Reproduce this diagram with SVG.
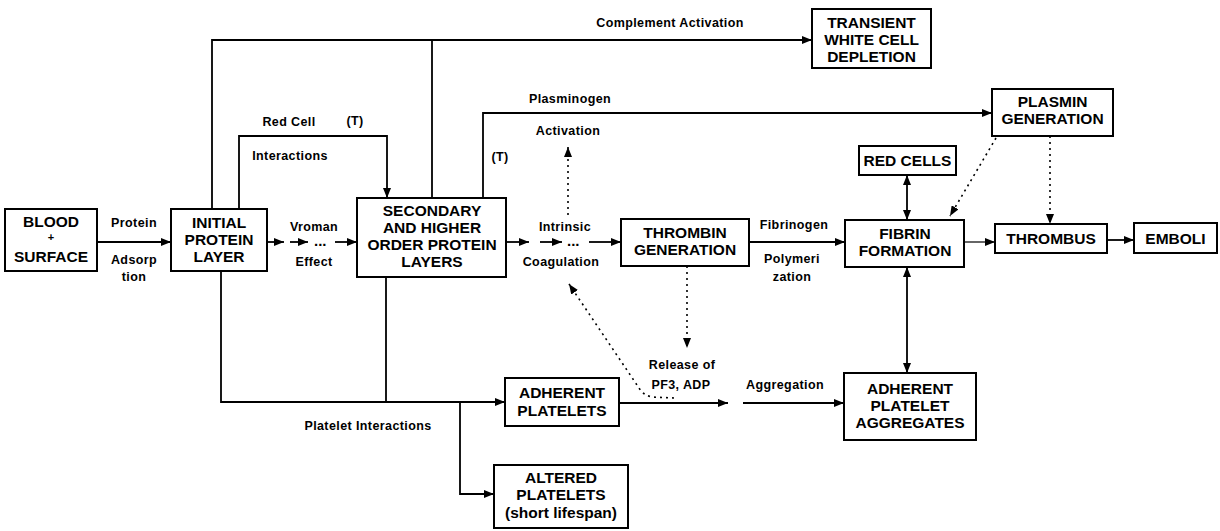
<svg xmlns="http://www.w3.org/2000/svg" width="1220" height="531" viewBox="0 0 1220 531">
  <style>
    .box { fill: #fff; stroke: #000; stroke-width: 2; }
    .nt { font-family: "Liberation Sans", Arial, sans-serif; font-weight: bold; font-size: 15.5px; text-anchor: middle; fill: #000; }
    .plus { font-family: "Liberation Sans", Arial, sans-serif; font-weight: bold; font-size: 11px; text-anchor: middle; fill: #000; }
    .lb { font-family: "Liberation Sans", Arial, sans-serif; font-weight: bold; font-size: 12.5px; letter-spacing: 0.4px; text-anchor: middle; fill: #000; }
    .dots { font-family: "Liberation Sans", Arial, sans-serif; font-weight: bold; font-size: 15px; fill: #000; }
    .ln { fill: none; stroke: #000; stroke-width: 1.8; }
    .thin { fill: none; stroke: #000; stroke-width: 1.2; }
    .dot { fill: none; stroke: #000; stroke-width: 1.6; stroke-dasharray: 2 4; }
    .arr { marker-end: url(#ah); }
    .both { marker-start: url(#ahs); marker-end: url(#ah); }
  </style>
  <defs>
    <marker id="ah" viewBox="0 0 10 8" refX="10" refY="4" markerWidth="10" markerHeight="8" markerUnits="userSpaceOnUse" orient="auto">
      <path d="M0,0 L10,4 L0,8 Z" fill="#000"/>
    </marker>
    <marker id="ahs" viewBox="0 0 10 8" refX="10" refY="4" markerWidth="10" markerHeight="8" markerUnits="userSpaceOnUse" orient="auto-start-reverse">
      <path d="M0,0 L10,4 L0,8 Z" fill="#000"/>
    </marker>
  </defs>
  <rect width="1220" height="531" fill="#fff"/>

  <!-- connectors -->
  <g id="connectors">
    <!-- adsorption -->
    <path class="ln arr" d="M97,242 H171"/>
    <!-- Vroman effect chain -->
    <path class="ln arr" d="M267,242 H284"/>
    <path class="ln arr" d="M290,242 H308"/>
    <text class="dots" x="314" y="246">...</text>
    <path class="ln arr" d="M335,242 H357"/>
    <!-- complement activation -->
    <path class="ln arr" d="M212,209 V40 H812"/>
    <path class="ln" d="M432,198 V40"/>
    <!-- red cell interactions -->
    <path class="ln arr" d="M239,209 V136 H387 V198"/>
    <!-- plasminogen activation -->
    <path class="ln arr" d="M483,198 V113 H992"/>
    <path class="dot arr" d="M568,215 V147"/>
    <!-- intrinsic coagulation chain -->
    <path class="ln arr" d="M506,242 H529"/>
    <path class="ln arr" d="M540,242 H562"/>
    <text class="dots" x="567" y="246">...</text>
    <path class="ln arr" d="M589,242 H621"/>
    <!-- fibrinogen polymerization -->
    <path class="ln arr" d="M749,242 H845"/>
    <path class="thin arr" d="M964,242 H995"/>
    <path class="ln arr" d="M1107,240 H1134"/>
    <path class="ln both" d="M907,175 V220"/>
    <path class="ln both" d="M907,267 V373"/>
    <!-- plasmin effects -->
    <path class="dot arr" d="M996,138 L950,216"/>
    <path class="dot arr" d="M1050,136 V224"/>
    <!-- release of PF3, ADP -->
    <path class="dot arr" d="M687,266 V348"/>
    <path class="dot arr" d="M674,398 L652,397 Q643,395 639,388 L569,284"/>
    <!-- platelet interactions -->
    <path class="ln arr" d="M221,271 V402 H505"/>
    <path class="ln" d="M386,277 V402"/>
    <path class="ln arr" d="M460,402 V494 H494"/>
    <path class="ln arr" d="M619,403 H728"/>
    <path class="ln arr" d="M743,403 H844"/>

    <!-- connector labels -->
    <text class="lb" x="134" y="227">Protein</text>
    <text class="lb" x="134" y="264">Adsorp</text>
    <text class="lb" x="134" y="281">tion</text>
    <text class="lb" x="314" y="231">Vroman</text>
    <text class="lb" x="314" y="266">Effect</text>
    <text class="lb" x="289" y="126">Red Cell</text>
    <text class="lb" x="355" y="125">(T)</text>
    <text class="lb" x="290" y="160">Interactions</text>
    <text class="lb" x="670" y="27">Complement Activation</text>
    <text class="lb" x="570" y="103">Plasminogen</text>
    <text class="lb" x="568" y="135">Activation</text>
    <text class="lb" x="500" y="161">(T)</text>
    <text class="lb" x="565" y="231">Intrinsic</text>
    <text class="lb" x="561" y="266">Coagulation</text>
    <text class="lb" x="794" y="229">Fibrinogen</text>
    <text class="lb" x="792" y="263">Polymeri</text>
    <text class="lb" x="792" y="281">zation</text>
    <text class="lb" x="682" y="369">Release of</text>
    <text class="lb" x="681" y="389">PF3, ADP</text>
    <text class="lb" x="785" y="389">Aggregation</text>
    <text class="lb" x="368" y="430">Platelet Interactions</text>
  </g>

  <!-- nodes -->
  <g id="blood-surface">
    <rect class="box" x="5" y="209" width="92" height="62"/>
    <text class="nt" x="51" y="227">BLOOD</text>
    <text class="plus" x="51" y="241">+</text>
    <text class="nt" x="51" y="262">SURFACE</text>
  </g>
  <g id="initial-protein-layer">
    <rect class="box" x="171" y="209" width="96" height="62"/>
    <text class="nt" x="219" y="228">INITIAL</text>
    <text class="nt" x="219" y="245">PROTEIN</text>
    <text class="nt" x="219" y="262">LAYER</text>
  </g>
  <g id="secondary-layers">
    <rect class="box" x="357" y="198" width="149" height="79"/>
    <text class="nt" x="432" y="216">SECONDARY</text>
    <text class="nt" x="432" y="233">AND HIGHER</text>
    <text class="nt" x="432" y="250">ORDER PROTEIN</text>
    <text class="nt" x="432" y="267">LAYERS</text>
  </g>
  <g id="thrombin-generation">
    <rect class="box" x="621" y="219" width="128" height="47"/>
    <text class="nt" x="685" y="238">THROMBIN</text>
    <text class="nt" x="685" y="255">GENERATION</text>
  </g>
  <g id="fibrin-formation">
    <rect class="box" x="845" y="220" width="119" height="47"/>
    <text class="nt" x="905" y="239">FIBRIN</text>
    <text class="nt" x="905" y="256">FORMATION</text>
  </g>
  <g id="thrombus">
    <rect class="box" x="995" y="224" width="112" height="29"/>
    <text class="nt" x="1051" y="244">THROMBUS</text>
  </g>
  <g id="emboli">
    <rect class="box" x="1134" y="223" width="83" height="30"/>
    <text class="nt" x="1175.5" y="244">EMBOLI</text>
  </g>
  <g id="white-cell-depletion">
    <rect class="box" x="812" y="9" width="119" height="59"/>
    <text class="nt" x="871.5" y="28">TRANSIENT</text>
    <text class="nt" x="871.5" y="45">WHITE CELL</text>
    <text class="nt" x="871.5" y="62">DEPLETION</text>
  </g>
  <g id="plasmin-generation">
    <rect class="box" x="992" y="89" width="121" height="47"/>
    <text class="nt" x="1052.5" y="107">PLASMIN</text>
    <text class="nt" x="1052.5" y="124">GENERATION</text>
  </g>
  <g id="red-cells">
    <rect class="box" x="859" y="146" width="97" height="29"/>
    <text class="nt" x="907.5" y="166">RED CELLS</text>
  </g>
  <g id="adherent-platelets">
    <rect class="box" x="505" y="378" width="114" height="48"/>
    <text class="nt" x="562" y="398">ADHERENT</text>
    <text class="nt" x="562" y="416">PLATELETS</text>
  </g>
  <g id="platelet-aggregates">
    <rect class="box" x="844" y="373" width="132" height="67"/>
    <text class="nt" x="910" y="394">ADHERENT</text>
    <text class="nt" x="910" y="411">PLATELET</text>
    <text class="nt" x="910" y="428">AGGREGATES</text>
  </g>
  <g id="altered-platelets">
    <rect class="box" x="494" y="465" width="134" height="63"/>
    <text class="nt" x="561" y="483">ALTERED</text>
    <text class="nt" x="561" y="500">PLATELETS</text>
    <text class="nt" x="561" y="518">(short lifespan)</text>
  </g>
</svg>
